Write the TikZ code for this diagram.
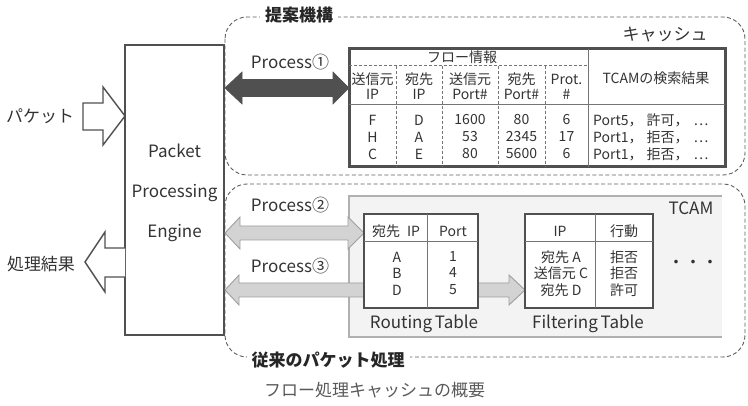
\documentclass[tikz,border=0pt]{standalone}
\usepackage{fontspec}
\setmainfont{Noto Sans CJK JP}
\usetikzlibrary{calc}
\definecolor{tx}{HTML}{333333}
\definecolor{ln}{HTML}{505050}
\definecolor{dl}{HTML}{5E5E5E}
\definecolor{inl}{HTML}{757575}
\definecolor{lg}{HTML}{D3D3D3}
\definecolor{lgo}{HTML}{9E9E9E}
\definecolor{tcf}{HTML}{F3F3F3}
\definecolor{tco}{HTML}{B0B0B0}
\begin{document}
\begin{tikzpicture}[x=1pt,y=-1pt,
  lbl/.style={font=\fontsize{17}{20}\selectfont, text=tx, inner sep=0},
  grplbl/.style={font=\fontsize{17}{20}\selectfont\bfseries, text=black!85, inner ysep=1, inner xsep=5, fill=white},
  tb/.style={font=\fontsize{14}{15}\selectfont, text=tx, inner sep=0},
  grp/.style={draw=dl, line width=0.9, dash pattern=on 4pt off 2.5pt, rounded corners=22},
  hollow/.style={draw=ln, line width=1.4, fill=white, line join=miter},
  lightarrow/.style={draw=lgo, line width=0.9, fill=lg},
  darkarrow/.style={draw=ln, line width=0.6, fill=ln},
  tbox/.style={draw=ln, line width=2.5, fill=white, inner sep=0},
  inner/.style={draw=inl, line width=1},
  innerd/.style={draw=inl, line width=1, dash pattern=on 3pt off 2pt}]
\useasboundingbox (0,0) rectangle (748,406);

% ---- group frames ----
\draw[grp] (225,17) rectangle (745,175);
\node[grplbl] (ttl1) at (299,15) {提案機構};
\draw[grp] (225,184) rectangle (745,357);
\node[grplbl] (ttl2) at (328,360) {従来のパケット処理};

% ---- TCAM region ----
\fill[tcf] (349,196) rectangle (722,337);
\draw[tco, line width=1.2] (722,196) -- (349,196) -- (349,337) -- (722,337);
\node[lbl] (tcam) at (691,208) {TCAM};
\node[lbl] (dots) at (693,264) {・・・};

% ---- engine ----
\node[draw=ln, line width=1.5, minimum width=99, minimum height=290, inner sep=0] (engine) at (174.5,190) {};
\node[lbl] (e1) at (174.5,151) {Packet};
\node[lbl] (e2) at (174.5,193) {Processing};
\node[lbl] (e3) at (174.5,233) {Engine};

% ---- input / output arrows ----
\draw[hollow] (83,103) -- (103,103) -- (103,87) -- (125,116) -- (103,145) -- (103,130) -- (83,130) -- cycle;
\node[lbl] (pkt) at (40,116) {パケット};
\draw[hollow] (125,248) -- (105,248) -- (105,232) -- (85,262) -- (105,292) -- (105,277) -- (125,277);
\node[lbl] (res) at (41,264) {処理結果};

% ---- process arrows ----
\draw[darkarrow] (225,88) -- (242,72) -- (242,79.5) -- (333,79.5) -- (333,72) -- (349,88) -- (333,104) -- (333,96.5) -- (242,96.5) -- (242,104) -- cycle;
\node[lbl] (p1) at (290,62) {Process①};

\draw[lightarrow] (225,233) -- (240,217) -- (240,226) -- (348,226) -- (348,217) -- (364,233) -- (348,249) -- (348,240) -- (240,240) -- (240,249) -- cycle;
\node[lbl] (p2) at (290,205) {Process②};

\draw[lightarrow] (225,290) -- (239,275) -- (239,283) -- (372,283) -- (372,297) -- (239,297) -- (239,305) -- cycle;
\node[lbl] (p3) at (290,266) {Process③};

\draw[lightarrow] (478,283) -- (509,283) -- (509,275) -- (525,290) -- (509,305) -- (509,297) -- (478,297) -- cycle;

% ---- routing table ----
\node[tbox, minimum width=114, minimum height=94] (rt) at (421,261) {};
\draw[inner] (427,214) -- (427,308);
\draw[inner] (364,242) -- (478,242);
\node[tb] (rth1) at (396,231) {宛先\hspace{7pt}IP};
\node[tb] (rth2) at (453,231) {Port};
\foreach \a/\b/\y in {A/1/257, B/4/273, D/5/290}{
  \node[tb] at (397,\y) {\a};
  \node[tb] at (453,\y) {\b};
}
\node[lbl] (rtl) at (424,324) {Routing\hspace{-1pt} Table};

% ---- filtering table ----
\node[tbox, minimum width=128, minimum height=94] (ft) at (589,261) {};
\draw[inner] (595,214) -- (595,308);
\draw[inner] (525,242) -- (653,242);
\node[tb] (fth1) at (560,231) {IP};
\node[tb] (fth2) at (624,231) {行動};
\foreach \a/\b/\y in {宛先 A/拒否/257, 送信元 C/拒否/273, 宛先 D/許可/290}{
  \node[tb] at (561,\y) {\a};
  \node[tb] at (624,\y) {\b};
}
\node[lbl] (ftl) at (588,324) {Filtering\hspace{-1pt} Table};

% ---- cache table ----
\node[lbl] (cachelbl) at (665,35) {キャッシュ};
\node[tbox, line width=3, minimum width=376, minimum height=118] (cache) at (537,108) {};
\draw[inner] (588,49) -- (588,167);
\draw[inner] (349,105) -- (725,105);
\draw[innerd] (349,66) -- (588,66);
\foreach \x in {396,442,498,545}{ \draw[innerd] (\x,66) -- (\x,167); }
\node[tb] (flow) at (462,57) {フロー情報};
\foreach \x/\a/\b in {372.5/送信元/IP, 419/宛先/IP, 470/送信元/Port\#, 521.5/宛先/Port\#, 566.5/Prot./\#}{
  \node[tb] at (\x,79) {\a};
  \node[tb] at (\x,94) {\b};
}
\node[tb] (tres) at (656,78) {TCAMの検索結果};
\foreach \y/\a/\b/\c/\d/\e/\r/\s in {120/F/D/1600/80/6/5/許可, 137/H/A/53/2345/17/1/拒否, 154/C/E/80/5600/6/1/拒否}{
  \node[tb] at (372.5,\y) {\a};
  \node[tb] at (419,\y) {\b};
  \node[tb] at (470,\y) {\c};
  \node[tb] at (521.5,\y) {\d};
  \node[tb] at (566.5,\y) {\e};
  \node[tb, anchor=west] at (593,\y) {Port\r，\hspace{4pt}\s，\hspace{5pt}…};
}

% ---- caption ----
\node[font=\fontsize{17}{20}\selectfont, text=black!65, inner sep=0] (cap) at (374.5,390) {フロー処理キャッシュの概要};
\end{tikzpicture}
\end{document}
